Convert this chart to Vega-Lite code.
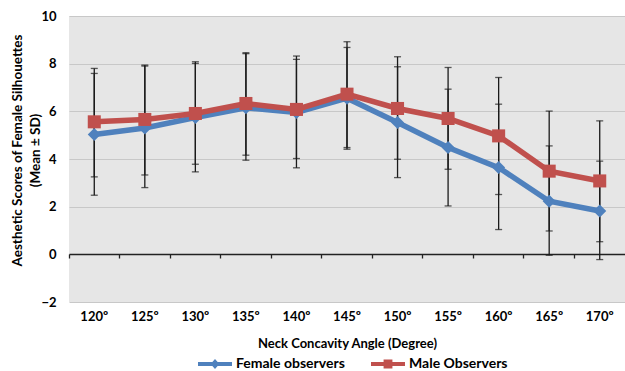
{
  "$schema": "https://vega.github.io/schema/vega-lite/v6.json",
  "width": 556,
  "height": 286,
  "autosize": {"type": "none"},
  "padding": {"left": 69, "top": 16, "right": 0, "bottom": 69},
  "background": "white",
  "config": {
    "view": {"fill": "#e6e6e6", "stroke": null},
    "font": "Lato",
    "axis": {"labelFont": "Lato", "titleFont": "Lato", "labelColor": "#000000", "titleColor": "#000000", "labelFontWeight": "bold", "titleFontWeight": "bold", "labelFontSize": 13, "titleFontSize": 13}
  },
  "data": {
    "values": [
      {"angle": "120º", "group": "Female observers", "mean": 5.03, "lower": 2.48, "upper": 7.59},
      {"angle": "125º", "group": "Female observers", "mean": 5.30, "lower": 2.80, "upper": 7.90},
      {"angle": "130º", "group": "Female observers", "mean": 5.74, "lower": 3.46, "upper": 8.01},
      {"angle": "135º", "group": "Female observers", "mean": 6.15, "lower": 3.95, "upper": 8.42},
      {"angle": "140º", "group": "Female observers", "mean": 5.95, "lower": 3.63, "upper": 8.18},
      {"angle": "145º", "group": "Female observers", "mean": 6.55, "lower": 4.41, "upper": 8.68},
      {"angle": "150º", "group": "Female observers", "mean": 5.53, "lower": 3.22, "upper": 7.87},
      {"angle": "155º", "group": "Female observers", "mean": 4.48, "lower": 2.03, "upper": 6.93},
      {"angle": "160º", "group": "Female observers", "mean": 3.64, "lower": 1.04, "upper": 6.30},
      {"angle": "165º", "group": "Female observers", "mean": 2.23, "lower": -0.04, "upper": 4.55},
      {"angle": "170º", "group": "Female observers", "mean": 1.82, "lower": -0.22, "upper": 3.91},
      {"angle": "120º", "group": "Male Observers", "mean": 5.56, "lower": 3.25, "upper": 7.80},
      {"angle": "125º", "group": "Male Observers", "mean": 5.66, "lower": 3.33, "upper": 7.94},
      {"angle": "130º", "group": "Male Observers", "mean": 5.91, "lower": 3.78, "upper": 8.08},
      {"angle": "135º", "group": "Male Observers", "mean": 6.33, "lower": 4.16, "upper": 8.46},
      {"angle": "140º", "group": "Male Observers", "mean": 6.08, "lower": 4.02, "upper": 8.32},
      {"angle": "145º", "group": "Male Observers", "mean": 6.72, "lower": 4.48, "upper": 8.92},
      {"angle": "150º", "group": "Male Observers", "mean": 6.12, "lower": 3.99, "upper": 8.29},
      {"angle": "155º", "group": "Male Observers", "mean": 5.70, "lower": 3.57, "upper": 7.84},
      {"angle": "160º", "group": "Male Observers", "mean": 4.97, "lower": 2.51, "upper": 7.42},
      {"angle": "165º", "group": "Male Observers", "mean": 3.49, "lower": 0.98, "upper": 6.01},
      {"angle": "170º", "group": "Male Observers", "mean": 3.08, "lower": 0.53, "upper": 5.60}
    ]
  },
  "resolve": {"axis": {"x": "independent"}},
  "layer": [
    {
      "mark": {"type": "rule", "color": "#1a1a1a", "strokeWidth": 1.3},
      "encoding": {
        "x": {
          "field": "angle", "type": "nominal",
          "scale": {"type": "band", "paddingInner": 0, "paddingOuter": 0},
          "axis": {"orient": "bottom", "title": "Neck Concavity Angle (Degree)", "labelAngle": 0, "domain": false, "ticks": false, "labelPadding": 8, "titlePadding": 14}
        },
        "y": {
          "field": "lower", "type": "quantitative",
          "scale": {"domain": [-2, 10], "nice": false, "zero": false},
          "axis": {
            "title": ["Aesthetic Scores of Female Silhouettes", "(Mean ± SD)"],
            "titleFontSize": 13.5,
            "titleLineHeight": 18,
            "titleX": -45,
            "titleY": 134,
            "titleBaseline": "bottom",
            "values": [-2, 0, 2, 4, 6, 8, 10],
            "domain": false, "ticks": false, "labelPadding": 13,
            "grid": true, "gridColor": "#c8c8c8", "gridWidth": 1
          }
        },
        "y2": {"field": "upper"}
      }
    },
    {
      "mark": {"type": "tick", "color": "#1a1a1a", "thickness": 1.3, "size": 7},
      "encoding": {
        "x": {
          "field": "angle", "type": "nominal",
          "axis": {"orient": "bottom", "offset": -48, "labels": false, "title": null, "domain": true, "domainColor": "#222222", "domainWidth": 1.3, "ticks": true, "tickColor": "#222222", "tickWidth": 1.3, "tickSize": 4, "bandPosition": 0, "grid": false}
        },
        "y": {"field": "lower", "type": "quantitative"}
      }
    },
    {
      "mark": {"type": "tick", "color": "#1a1a1a", "thickness": 1.3, "size": 7},
      "encoding": {
        "x": {"field": "angle", "type": "nominal", "axis": null},
        "y": {"field": "upper", "type": "quantitative"}
      }
    },
    {
      "mark": {"type": "line", "strokeWidth": 5.5},
      "encoding": {
        "x": {"field": "angle", "type": "nominal", "axis": null},
        "y": {"field": "mean", "type": "quantitative"},
        "color": {
          "field": "group", "type": "nominal",
          "scale": {"domain": ["Female observers", "Male Observers"], "range": ["#4F81BD", "#C0504D"]},
          "legend": {
            "orient": "none", "legendX": 129, "legendY": 331, "direction": "horizontal", "title": null,
            "symbolSize": 1156, "symbolStrokeWidth": 0, "symbolOpacity": 1,
            "labelFont": "Lato", "labelFontSize": 14, "labelFontWeight": "bold", "labelColor": "#000000",
            "labelOffset": 4, "columnPadding": 26,
            "encode": {
              "symbols": {
                "update": {
                  "shape": {"signal": "datum.value == 'Female observers' ? 'M-1,-0.12H1V0.12H-1Z M0,-0.3L0.26,0L0,0.3L-0.26,0Z' : 'M-1,-0.12H1V0.12H-1Z M-0.26,-0.26H0.26V0.26H-0.26Z'"},
                  "fill": {"signal": "datum.value == 'Female observers' ? '#4F81BD' : '#C0504D'"},
                  "strokeWidth": {"value": 0}
                }
              }
            }
          }
        }
      }
    },
    {
      "transform": [{"filter": "datum.group == 'Female observers'"}],
      "mark": {"type": "point", "filled": true, "opacity": 1, "size": 170, "shape": "diamond"},
      "encoding": {
        "x": {"field": "angle", "type": "nominal", "axis": null},
        "y": {"field": "mean", "type": "quantitative"},
        "color": {"field": "group", "type": "nominal"}
      }
    },
    {
      "transform": [{"filter": "datum.group == 'Male Observers'"}],
      "mark": {"type": "point", "filled": true, "opacity": 1, "size": 170, "shape": "square"},
      "encoding": {
        "x": {"field": "angle", "type": "nominal", "axis": null},
        "y": {"field": "mean", "type": "quantitative"},
        "color": {"field": "group", "type": "nominal"}
      }
    }
  ]
}
